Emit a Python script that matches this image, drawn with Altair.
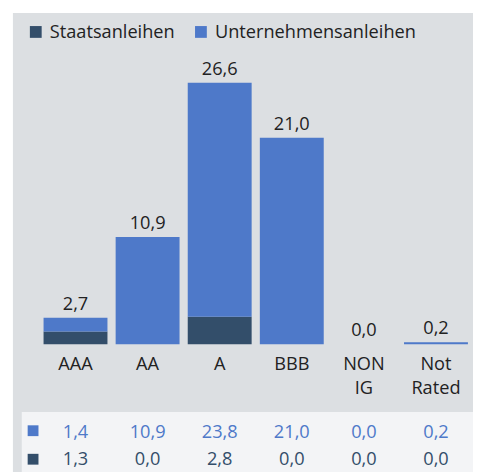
import altair as alt
import pandas as pd

categories = ["AAA", "AA", "A", "BBB", "NON IG", "Not Rated"]
cat_labels = ["AAA", "AA", "A", "BBB", "NON\nIG", "Not\nRated"]
series = ["Staatsanleihen", "Unternehmensanleihen"]
staats = [1.3, 0.0, 2.8, 0.0, 0.0, 0.0]
unternehmen = [1.4, 10.9, 23.8, 21.0, 0.0, 0.2]
totals = [2.7, 10.9, 26.6, 21.0, 0.0, 0.2]

DARK = "#334e6a"
BLUE = "#4e79c9"
FONT = "Open Sans"
FS = 18.5

def fmt(v):
    return f"{v:.1f}".replace(".", ",")

rows = []
for c, s, u in zip(categories, staats, unternehmen):
    rows.append({"cat": c, "series": series[0], "value": s})
    rows.append({"cat": c, "series": series[1], "value": u})
bars_df = pd.DataFrame(rows)

tot_df = pd.DataFrame({
    "cat": categories,
    "total": totals,
    "label": [fmt(t) for t in totals],
    "catlabel": cat_labels,
    "u": [fmt(v) for v in unternehmen],
    "s": [fmt(v) for v in staats],
})

xscale = alt.Scale(domain=categories, range=[32, 472], paddingInner=0.115, paddingOuter=0.0575)
yscale = alt.Scale(domain=[0, 26.6], range=[338, 72], nice=False, zero=True)
X = alt.X("cat:N", scale=xscale, axis=None, sort=categories)

bg = alt.Chart(pd.DataFrame({"a": [0]})).mark_rect(color="#dcdfe2").encode(
    x=alt.value(5), x2=alt.value(480), y=alt.value(1), y2=alt.value(470)
)
table_bg = alt.Chart(pd.DataFrame({"a": [0]})).mark_rect(color="#f3f4f6").encode(
    x=alt.value(14), x2=alt.value(480), y=alt.value(407), y2=alt.value(470)
)

bars = alt.Chart(bars_df).mark_bar(size=65).encode(
    x=X,
    y=alt.Y("value:Q", stack="zero", scale=yscale, axis=None),
    color=alt.Color(
        "series:N",
        scale=alt.Scale(domain=series, range=[DARK, BLUE]),
        legend=alt.Legend(
            title=None, orient="none", legendX=19, legendY=11, direction="horizontal",
            symbolType="square", symbolSize=144, symbolStrokeWidth=0,
            labelFont=FONT, labelFontSize=FS, labelColor="#222222", labelLimit=0,
            columnPadding=17, labelOffset=5,
        ),
    ),
    order=alt.Order("series:N", sort="ascending"),
)

tot_text = alt.Chart(tot_df).mark_text(
    font=FONT, fontSize=FS, color="#222222", baseline="bottom", dy=-4
).encode(x=X, y=alt.Y("total:Q", scale=yscale), text="label:N")

cat_text = alt.Chart(tot_df).mark_text(
    font=FONT, fontSize=FS, color="#222222", baseline="middle", lineBreak="\n", lineHeight=25
).encode(x=X, y=alt.value(358), text="catlabel:N")

row1 = alt.Chart(tot_df).mark_text(
    font=FONT, fontSize=FS, color=BLUE, baseline="middle"
).encode(x=X, y=alt.value(427), text="u:N")
row2 = alt.Chart(tot_df).mark_text(
    font=FONT, fontSize=FS, color=DARK, baseline="middle"
).encode(x=X, y=alt.value(455), text="s:N")

markers_df = pd.DataFrame({"series": series[::-1], "yy": [426, 455]})
markers = alt.Chart(markers_df).mark_square(size=121, opacity=1).encode(
    x=alt.value(25.5),
    y=alt.Y("yy:Q", scale=None),
    color=alt.Color("series:N", scale=alt.Scale(domain=series, range=[DARK, BLUE]), legend=None),
)

chart = alt.layer(bg, table_bg, bars, tot_text, cat_text, row1, row2, markers).properties(
    width=473, height=464, background="white", padding=0,
    autosize=alt.AutoSizeParams(type="none"),
).configure_view(stroke=None)

chart.save("out.html", embed_options={"renderer": "svg", "actions": False})
